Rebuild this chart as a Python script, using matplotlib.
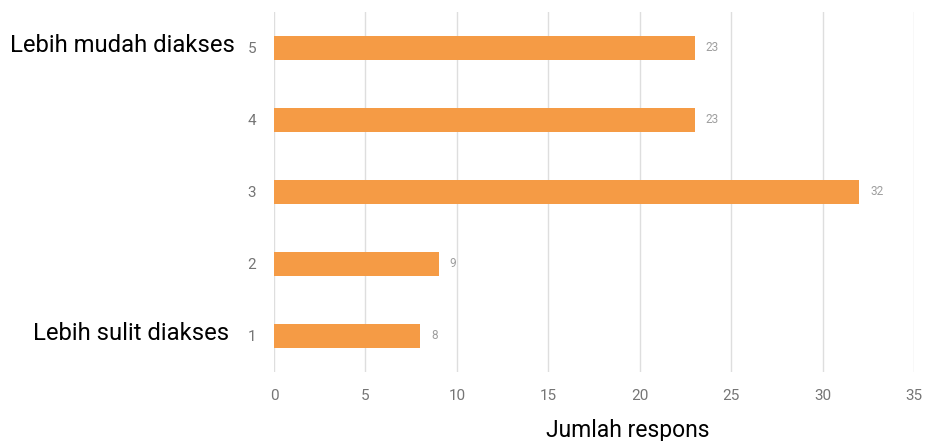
import matplotlib
matplotlib.use("Agg")
import matplotlib.pyplot as plt

categories = ["1", "2", "3", "4", "5"]
values = [8, 9, 32, 23, 23]
xticks = [0, 5, 10, 15, 20, 25, 30, 35]
xlabel = "Jumlah respons"
label_top = "Lebih mudah diakses"
label_bottom = "Lebih sulit diakses"

plt.rcParams['font.family'] = ['Roboto', 'DejaVu Sans']

fig = plt.figure(figsize=(9.27, 4.41), dpi=100)
ax = fig.add_axes([0.2956, 0.1565, 0.6904, 0.8163])

pos = list(range(1, len(categories) + 1))
ax.barh(pos, values, height=0.34, color="#F59B45", zorder=3)
for p, v in zip(pos, values):
    ax.text(v + 0.6, p, str(v), va="center", ha="left", fontsize=8.5, color="#9e9e9e")

ax.set_xlim(0, 35)
ax.set_ylim(0.5, 5.5)
ax.set_xticks(xticks)
ax.set_xticklabels([str(t) for t in xticks])
ax.set_yticks(pos)
ax.set_yticklabels(categories)
ax.tick_params(axis="both", length=0, colors="#757575", labelsize=11)
ax.tick_params(axis="x", pad=12)
ax.tick_params(axis="y", pad=13)
ax.grid(axis="x", color="#dedede", linewidth=1, zorder=0)
for s in ax.spines.values():
    s.set_visible(False)

fig.text(628 / 927, 1 - 430 / 441, xlabel, fontsize=16.5, color="black", va="center", ha="center")

fig.text(10 / 927, 1 - 46 / 441, label_top, fontsize=17.2, color="black", va="center", ha="left")
fig.text(33 / 927, 1 - 334 / 441, label_bottom, fontsize=17.2, color="black", va="center", ha="left")

fig.savefig("out.png", dpi=100)
